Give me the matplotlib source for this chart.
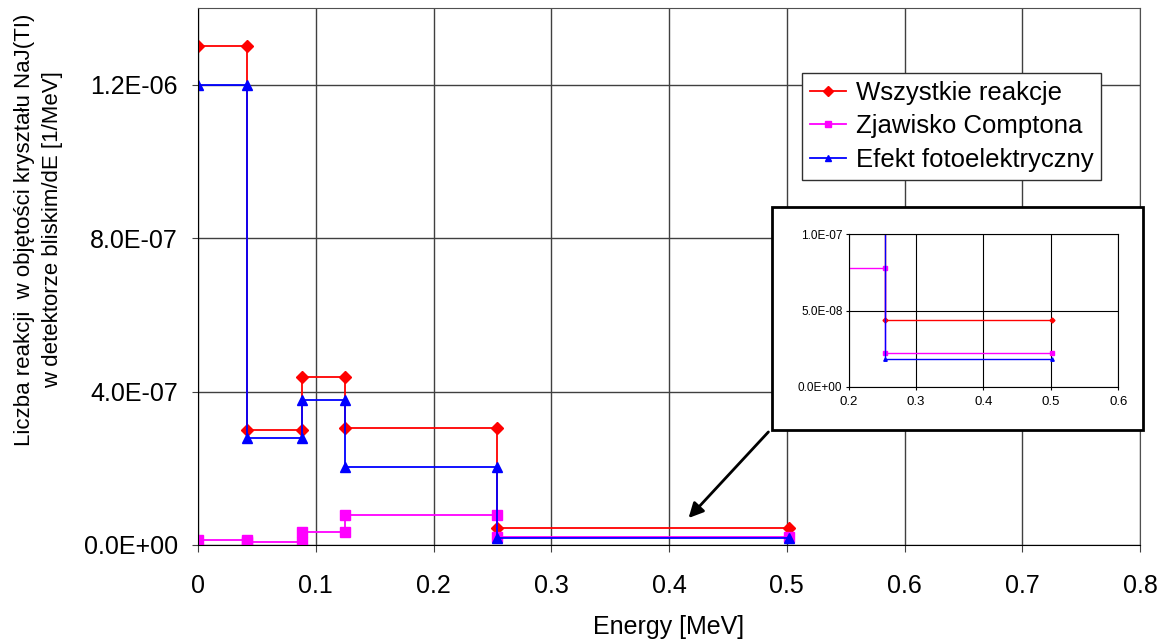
import numpy as np
import matplotlib
matplotlib.use('Agg')
import matplotlib.pyplot as plt
from matplotlib.patches import Rectangle
from matplotlib.ticker import FuncFormatter, MultipleLocator

plt.rcParams['font.family'] = ['Liberation Sans', 'DejaVu Sans']

# energy bin edges [MeV] and values per bin [1/MeV]
edges = [0.0, 0.042, 0.088, 0.125, 0.254, 0.502]
wszystkie = [1.30e-6, 3.00e-7, 4.38e-7, 3.05e-7, 4.4e-8]
compton = [1.4e-8, 8.0e-9, 3.5e-8, 7.8e-8, 2.2e-8]
foto = [1.20e-6, 2.79e-7, 3.77e-7, 2.04e-7, 1.8e-8]

labels = ['Wszystkie reakcje', 'Zjawisko Comptona', 'Efekt fotoelektryczny']
colors = ['#ff0000', '#ff00ff', '#0000ff']
markers = ['D', 's', '^']
msizes = [6, 6.5, 7.5]


def steps(edges, vals):
    # each bin drawn as a flat segment between its two edges
    xs, ys = [], []
    for i, v in enumerate(vals):
        xs += [edges[i], edges[i + 1]]
        ys += [v, v]
    return xs, ys


sci = FuncFormatter(lambda v, p: '{:.1E}'.format(v))

fig = plt.figure(figsize=(11.65, 6.41), dpi=100)
ax = fig.add_axes([0.16996, 0.14977, 0.8086, 0.8378])

for vals, lab, c, m, ms in zip([wszystkie, compton, foto], labels, colors, markers, msizes):
    xs, ys = steps(edges, vals)
    ax.plot(xs, ys, color=c, lw=1.3, marker=m, ms=ms, mec=c, mfc=c, label=lab)

ax.set_xlim(0, 0.8)
ax.set_ylim(0, 1.4e-6)
ax.xaxis.set_major_locator(MultipleLocator(0.1))
ax.set_yticks([0, 4e-7, 8e-7, 1.2e-6])
ax.yaxis.set_major_formatter(sci)
ax.xaxis.set_major_formatter(FuncFormatter(lambda v, p: '%g' % round(v, 2)))
ax.grid(True, color='#404040', lw=1)
ax.set_axisbelow(True)
ax.tick_params(axis='both', labelsize=18, direction='out', color='#404040')
ax.tick_params(axis='x', length=5, pad=16)
ax.tick_params(axis='y', length=4, pad=10.5)
for s in ax.spines.values():
    s.set_color('#505050')
ax.spines['left'].set_color('black')
ax.spines['bottom'].set_color('black')
ax.set_xlabel('Energy [MeV]', fontsize=18, labelpad=12)

fig.text(0.033, 0.642, 'Liczba reakcji  w objętości kryształu NaJ(TI)\nw detektorze bliskim/dE [1/MeV]',
         rotation=90, ha='center', va='center', fontsize=16, multialignment='center',
         linespacing=1.4)

leg = ax.legend(loc='upper left', bbox_to_anchor=(0.641, 0.879), borderaxespad=0,
                fontsize=18.5, handlelength=1.4, handletextpad=0.4, labelspacing=0.38,
                borderpad=0.3, fancybox=False, framealpha=1, edgecolor='#303030')
leg.get_frame().set_linewidth(1)
for h in leg.legend_handles:
    h.set_markersize(5)

ax.annotate('', xy=(0.415, 6.5e-8), xytext=(0.486, 3.0e-7),
            arrowprops=dict(arrowstyle='-|>', color='black', lw=2, mutation_scale=22))

# inset frame
frame = Rectangle((0.6627, 0.3292), 0.3185, 0.3479, transform=fig.transFigure,
                  facecolor='white', edgecolor='black', lw=2, zorder=2)
fig.add_artist(frame)

ins = fig.add_axes([0.7285, 0.3967, 0.2314, 0.2378], zorder=3)
for vals, c, m in zip([wszystkie, compton, foto], colors, markers):
    xs, ys = steps(edges, vals)
    ins.plot(xs, ys, color=c, lw=1, marker=m, ms=2.5, mec=c, mfc=c)
ins.set_xlim(0.2, 0.6)
ins.set_ylim(0, 1e-7)
ins.set_xticks([0.2, 0.3, 0.4, 0.5, 0.6])
ins.set_yticks([0, 5e-8, 1e-7])
ins.yaxis.set_major_formatter(sci)
ins.xaxis.set_major_formatter(FuncFormatter(lambda v, p: '%g' % round(v, 2)))
ins.grid(True, color='black', lw=0.8)
ins.set_axisbelow(True)
ins.tick_params(axis='both', labelsize=8.5, direction='out', length=2.5, pad=2)
ins.tick_params(axis='x', labelsize=9.5, pad=4)
for s in ins.spines.values():
    s.set_color('black')

fig.savefig('out.png', dpi=100)
